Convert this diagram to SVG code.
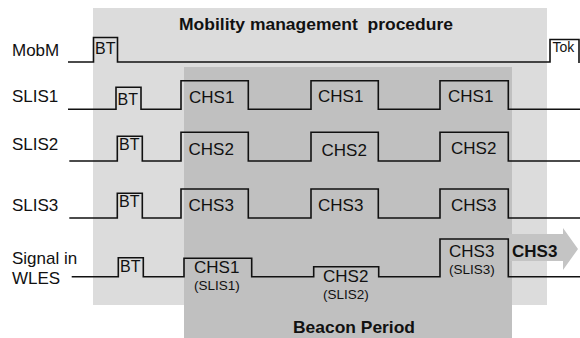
<svg xmlns="http://www.w3.org/2000/svg" width="580" height="338" viewBox="0 0 580 338">
<style>
.sig{fill:none;stroke:#111;stroke-width:1.6;stroke-linejoin:miter}
text{font-family:"Liberation Sans",Arial,sans-serif;fill:#111}
.lbl{font-size:17px}
.chs{font-size:17px}
.bt{font-size:16px}
.sm{font-size:13.5px}
.b{font-size:17px;font-weight:bold}
</style>
<rect width="580" height="338" fill="#fff"/>
<g id="mobility-area"><rect x="93" y="8" width="454" height="297" fill="#dcdcdc"/></g>
<g id="beacon-area"><rect x="184" y="67" width="328" height="271" fill="#c0c0c0"/></g>
<g id="chs3-arrow"><path d="M508,234 H563 V228 L578,249 L563,270 V261 H508 Z" fill="#c4c4c4"/></g>
<text class="b" x="179" y="30" xml:space="preserve" textLength="274" lengthAdjust="spacingAndGlyphs">Mobility management  procedure</text>
<text class="b" x="293" y="333" textLength="122" lengthAdjust="spacingAndGlyphs">Beacon Period</text>
<g id="connectors">
<path class="sig" d="M68,62 H93.5 V37.5 H117.5 V62 H550 V39.5 H579 V63"/>
<path class="sig" d="M68,109.3 H116 V87.3 H141 V109.3 H181 V80.7 H248.3 V109.3 H311 V80.7 H378.3 V109.3 H440 V80.7 H508.3 V109.3 H580"/>
<path class="sig" d="M69.3,161 H117.3 V136.3 H142.3 V161 H181 V132.3 H248.3 V161 H311 V132.3 H378.3 V161 H440 V132.3 H508.3 V161 H580"/>
<path class="sig" d="M69.3,218 H117.3 V193.3 H142.3 V218 H181 V189 H248.3 V218 H311 V189 H378.3 V218 H440 V189 H508.3 V218 H580"/>
<path class="sig" d="M71.7,276.7 H118.3 V257.7 H143.3 V276.7 H184 V258.3 H251.7 V276.7 H313.7 V266.7 H378.7 V276.7 H440 V239 H508.3 V276.7 H580"/>
</g>
<g id="MobM">
<text class="lbl" x="12" y="55.5">MobM</text>
<text class="bt" x="95" y="54">BT</text>
<text x="552.5" y="52" style="font-size:14px">Tok</text>
</g>
<g id="SLIS1">
<text class="lbl" x="12" y="102">SLIS1</text>
<text class="bt" x="117.5" y="105">BT</text>
<text class="chs" x="189" y="102.5">CHS1</text>
<text class="chs" x="318" y="102">CHS1</text>
<text class="chs" x="448" y="102">CHS1</text>
</g>
<g id="SLIS2">
<text class="lbl" x="12" y="150">SLIS2</text>
<text class="bt" x="119" y="149.5">BT</text>
<text class="chs" x="188.5" y="155">CHS2</text>
<text class="chs" x="321.5" y="155.5">CHS2</text>
<text class="chs" x="451" y="153.5">CHS2</text>
</g>
<g id="SLIS3">
<text class="lbl" x="12" y="210.5">SLIS3</text>
<text class="bt" x="119" y="206.5">BT</text>
<text class="chs" x="188.5" y="211">CHS3</text>
<text class="chs" x="318" y="211">CHS3</text>
<text class="chs" x="451" y="211">CHS3</text>
</g>
<g id="WLES">
<text class="lbl" x="12" y="264">Signal in</text>
<text class="lbl" x="12" y="284">WLES</text>
<text class="bt" x="120" y="271.5">BT</text>
<text class="chs" x="194" y="272.5">CHS1</text>
<text class="sm" x="194" y="290">(SLIS1)</text>
<text class="chs" x="323" y="282">CHS2</text>
<text class="sm" x="323" y="299">(SLIS2)</text>
<text class="chs" x="449" y="257">CHS3</text>
<text class="sm" x="449" y="274">(SLIS3)</text>
<text class="b" x="512" y="257">CHS3</text>
</g>
</svg>
